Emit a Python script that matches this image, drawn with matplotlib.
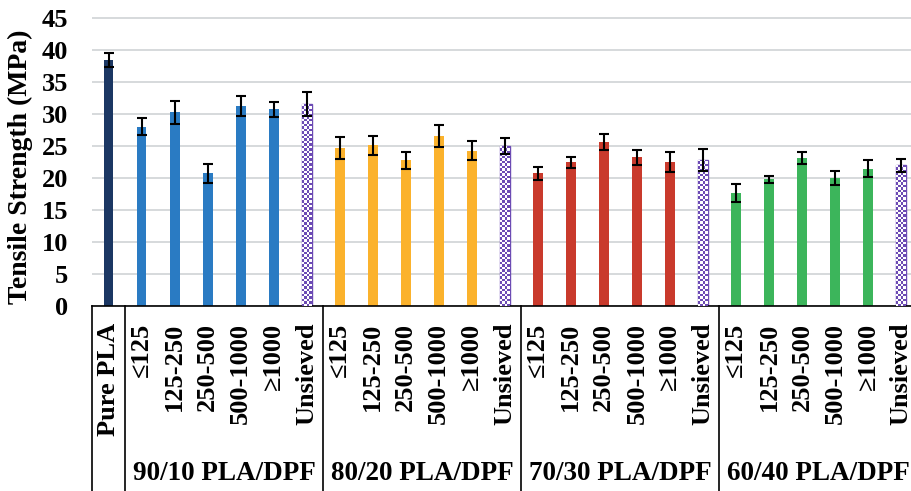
import numpy as np
import matplotlib; matplotlib.use("Agg")
import matplotlib.pyplot as plt
import matplotlib.transforms as mtrans
from matplotlib.colors import ListedColormap

plt.rcParams.update({"font.family": ["Liberation Serif", "DejaVu Serif"],
                     "font.weight": "bold", "font.size": 19})

sizes = ["≤125", "125-250", "250-500", "500-1000", "≥1000", "Unsieved"]
groups = ["90/10 PLA/DPF", "80/20 PLA/DPF", "70/30 PLA/DPF", "60/40 PLA/DPF"]

pure_val, pure_err = 38.35, 1.05
g90 = [28.0, 30.2, 20.7, 31.2, 30.7, 31.5]
g90_err = [1.4, 1.75, 1.5, 1.6, 1.2, 1.9]
g80 = [24.6, 25.05, 22.75, 26.5, 24.2, 24.95]
g80_err = [1.7, 1.45, 1.35, 1.7, 1.5, 1.25]
g70 = [20.7, 22.4, 25.6, 23.2, 22.45, 22.8]
g70_err = [1.0, 0.85, 1.2, 1.2, 1.55, 1.75]
g60 = [17.65, 19.75, 23.05, 19.95, 21.45, 21.95]
g60_err = [1.35, 0.55, 0.95, 1.15, 1.35, 1.05]

C_PURE = "#1b3763"
C_GROUP = ["#2a7bc3", "#fbb22c", "#c93a2c", "#3cb55b"]
C_UNS = "#6c4bb4"

labels = ["Pure PLA"] + sizes * 4
vals = [pure_val] + g90 + g80 + g70 + g60
errs = [pure_err] + g90_err + g80_err + g70_err + g60_err
cols = [C_PURE]
for c in C_GROUP:
    cols += [c] * 5 + [C_UNS]
x = np.arange(len(vals))

W, H = 912, 491
fig = plt.figure(figsize=(W / 100, H / 100), dpi=100)
ppu = 6.41  # pixels per MPa
ytop = 45.2
ax = fig.add_axes([92 / W, (H - 306) / H, 825.5 / W, ytop * ppu / H])

bw = 0.3
bars = ax.bar(x, vals, width=bw, color=cols, zorder=2)
ax.errorbar(x, vals, yerr=errs, fmt="none", ecolor="black", elinewidth=1.5,
            capsize=3.8, capthick=1.5, zorder=4)

# checkerboard fill for the unsieved bars
chk = ListedColormap(["white", C_UNS])
for i, b in enumerate(bars):
    if labels[i] != "Unsieved":
        continue
    b.set_facecolor(C_UNS); b.set_edgecolor(C_UNS); b.set_linewidth(1.0)
    h = vals[i]
    ncol = 4
    nrow = int(round(h * ppu / (bw * 33 / ncol)))
    arr = (np.add.outer(np.arange(nrow), np.arange(ncol)) % 2)
    im = ax.imshow(arr, cmap=chk, extent=(x[i] - bw / 2, x[i] + bw / 2, 0, h),
                   aspect="auto", interpolation="nearest", zorder=3)
    im.set_clip_path(b)

ax.set_xlim(-0.5, len(vals) - 0.5)
ax.set_ylim(0, ytop)
ax.set_yticks(np.arange(0, 46, 5))
ax.yaxis.grid(True, color="#d6d9dc", lw=1.4, zorder=0)
ax.set_axisbelow(True)
for s in ["top", "right", "left"]:
    ax.spines[s].set_visible(False)
ax.spines["bottom"].set_linewidth(1.2)
ax.tick_params(axis="y", length=0, pad=17, labelsize=19)
ax.tick_params(axis="x", length=0, pad=12, labelsize=19)
ax.set_xticks(x)
ax.set_xticklabels(labels, rotation=90, va="top", ha="center")

ax.set_ylabel("Tensile Strength (MPa)", fontsize=20, fontweight="bold")
ax.yaxis.set_label_coords((33 - 92) / 825.5, (306 - 167) / (ytop * ppu))

# category separators below the axis
trans = mtrans.blended_transform_factory(ax.transData, fig.transFigure)
y0 = (H - 306) / H
for xs in [-0.5, 0.5, 6.5, 12.5, 18.5, 24.5]:
    ax.plot([xs, xs], [y0, 0], color="black", lw=1.2, transform=trans, clip_on=False)

for k, g in enumerate(groups):
    ax.text(1 + 6 * k + 2.5, 1 - 474 / H, g, transform=trans, ha="center",
            va="center", fontsize=19.5, fontweight="bold")

fig.savefig("out.png", dpi=100)
